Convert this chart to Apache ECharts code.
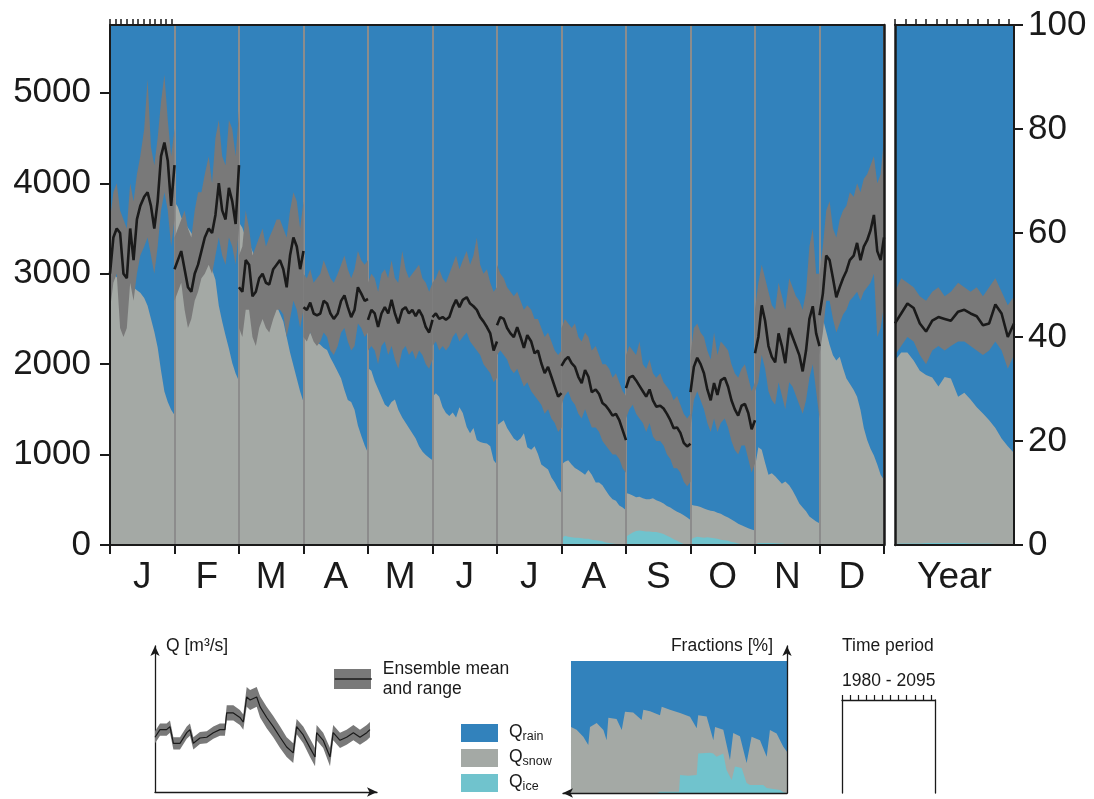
<!DOCTYPE html>
<html><head><meta charset="utf-8">
<script src="https://cdn.jsdelivr.net/npm/echarts@6/dist/echarts.min.js"></script>
<style>html,body{margin:0;padding:0;background:#fff}#c{width:1094px;height:799px}</style>
</head><body><div id="c"></div>
<script>
// ---------- DATA ----------
const MONTH_KEYS = ['Jan','Feb','Mar','Apr','May','Jun','Jul','Aug','Sep','Oct','Nov','Dec'];
const MONTH_LABELS = ['J','F','M','A','M','J','J','A','S','O','N','D'];
const YEARS = [1980,1986,1992,1998,2004,2010,2016,2022,2028,2034,2041,2047,2053,2059,2065,2071,2077,2083,2089,2095];
const DECADES = [1980,1990,2000,2010,2020,2030,2040,2050,2060,2070,2080,2090];
const Q_TICKS = [0,1000,2000,3000,4000,5000];
const FULL = 100;

// top of snow fraction (%), one row per month
const SNOW = [
 [53,52,51.5,51,49.5,50,50.5,49.5,49,48.5,47.5,46,43.5,41,38,33.5,29.5,27.5,26,25],
 [66,65,63,62,61,60,59,58,56,55,54.5,53,51,46,43,40.3,37.8,35,33,31.5],
 [62,61,59,58,56.5,55,53.5,52,50,48.5,47,46,44.5,43,40,37,34.5,32,29.5,27.5],
 [42.3,41.3,40.8,39.8,39,38.5,37.9,37.5,36,34.8,33.3,32,29.8,27.9,27.5,26,23,21,19.2,17.7],
 [34,33.5,31.5,30,28.5,27,26.5,27.5,28,26,24.5,23.5,22.5,21.5,20.5,19,18,17.3,16.8,16.3],
 [28.5,29.2,28.5,26.5,25.4,24.8,25.5,24.5,26.5,25.4,22.7,21.5,22.5,20.2,19.8,19.6,19.5,19,16.3,15.5],
 [23,23.5,24,22.5,21.5,20.5,20,20.5,21.5,18.8,18.3,19,17.5,15.5,15,14.5,13,12,10.8,10],
 [15.5,16,16.3,15.5,14.8,14.4,14,13.5,14.4,13.5,12,12,11.5,10.5,9.5,8.8,8.5,7.6,7.2,6.7],
 [10,9.8,9.5,9.2,9.3,9,8.8,8.8,9,8.6,8.3,8,7.5,7.2,6.8,6.4,6.1,5.7,5.3,4.8],
 [7.8,7.6,7.5,7.3,7,6.8,6.6,6.5,6.2,6,5.6,5.3,4.9,4.5,4.1,3.8,3.5,3.2,3,2.8],
 [15,18.8,18.3,15.8,13.5,13.8,13.2,12.5,11.8,12.2,11.5,10.5,9.3,8,7.2,6.5,5.5,5,4.5,4.2],
 [42,43.5,41,38.5,36.5,35.5,36.2,34,32,31,29.8,28.5,26,22.5,20.2,18.5,17.2,15.5,13.5,12.5]
];
// ice fraction (%)
const ICE = [
 [0,0,0,0,0,0,0,0,0,0,0,0,0,0,0,0,0,0,0,0],
 [0,0,0,0,0,0,0,0,0,0,0,0,0,0,0,0,0,0,0,0],
 [0,0,0,0,0,0,0,0,0,0,0,0,0,0,0,0,0,0,0,0],
 [0,0,0,0,0,0,0,0,0,0,0,0,0,0,0,0,0,0,0,0],
 [0,0,0,0,0,0,0,0,0,0,0,0,0,0,0,0,0,0,0,0],
 [0,0,0,0,0,0,0,0,0,0,0,0,0,0,0,0,0,0,0,0],
 [0,0,0,0,0,0,0,0,0,0,0,0,0,0,0,0,0,0,0,0],
 [1.2,1.8,1.6,1.5,1.4,1.4,1.3,1.2,1.2,1,0.9,0.8,0.7,0.5,0.4,0.3,0.2,0.1,0,0],
 [1.6,2,2.4,2.7,2.8,2.7,2.6,2.6,2.5,2.5,2.3,2.1,1.8,1.5,1.1,0.8,0.5,0.2,0.1,0],
 [1,1.4,1.6,1.5,1.4,1.5,1.4,1.3,1.2,1,0.9,0.8,0.6,0.5,0.3,0.2,0.1,0,0,0],
 [0.2,0.4,0.4,0.4,0.4,0.4,0.35,0.3,0.3,0.2,0.1,0.1,0,0,0,0,0,0,0,0],
 [0,0,0,0,0,0,0,0,0,0,0,0,0,0,0,0,0,0,0,0]
];
// ensemble mean discharge (m3/s)
const Q_MEAN = [
 [3000,3400,3500,3450,3000,2950,3500,3150,3600,3750,3850,3900,3750,3500,3800,4300,4450,4250,3750,4200],
 [3050,3150,3250,3050,2850,2800,3000,3100,3250,3400,3500,3450,3650,4000,3700,3600,3950,3800,3550,4200],
 [2850,2800,3150,3100,2750,2800,2950,3000,2900,2880,3050,3100,3150,3050,2850,3200,3400,3300,3050,3250],
 [2630,2600,2680,2560,2540,2560,2700,2670,2560,2500,2560,2700,2760,2630,2520,2600,2850,2780,2700,2720],
 [2490,2600,2560,2410,2560,2630,2560,2710,2560,2450,2600,2630,2560,2600,2530,2600,2530,2410,2350,2490],
 [2520,2560,2500,2520,2490,2520,2630,2710,2630,2710,2740,2670,2640,2600,2520,2470,2410,2340,2150,2250],
 [2430,2520,2500,2400,2340,2300,2410,2300,2180,2320,2250,2120,2150,2010,1900,1970,1860,1750,1640,1680],
 [1980,2045,2080,2010,1970,1860,1790,1935,1860,1690,1720,1670,1570,1540,1490,1430,1450,1380,1270,1160],
 [1735,1850,1870,1820,1760,1700,1640,1720,1600,1530,1540,1510,1450,1380,1290,1300,1240,1130,1090,1120],
 [1690,1970,2070,2000,1900,1720,1600,1790,1660,1820,1850,1750,1600,1500,1430,1540,1560,1460,1280,1380],
 [2120,2300,2650,2480,2200,2080,2020,2340,2200,2010,2400,2300,2200,2100,1920,2150,2500,2640,2340,2200],
 [2540,2780,3200,3150,2950,2740,2850,2950,3030,3150,3200,3340,3150,3300,3370,3480,3650,3250,3150,3400]
];
// ensemble maximum
const Q_MAX = [
 [3600,3900,4000,3700,3600,3500,4000,3800,4100,4300,4600,5150,4400,4200,4500,4900,5200,4700,4300,4600],
 [3400,3500,3600,3700,3500,3400,3700,3900,3900,4100,4300,4000,4500,4700,4300,4200,4700,4600,4300,4800],
 [3200,3300,3700,3500,3200,3300,3400,3500,3300,3400,3500,3600,3600,3500,3400,3700,3900,3800,3500,3800],
 [3000,2950,3050,2900,2950,3000,3150,3050,2950,2900,3000,3100,3200,3050,2950,3050,3250,3150,3100,3150],
 [2900,3000,2950,2800,3000,3050,2950,3150,2950,2900,3250,3050,2950,3000,3050,3100,2950,2900,2800,2900],
 [2900,2950,3050,2950,2900,3000,3100,3200,3050,3150,3250,3100,3200,3400,3100,3000,3050,2900,2800,2850],
 [3100,3000,2950,2850,2800,2750,2800,2700,2600,2650,2600,2500,2500,2400,2300,2350,2250,2150,2100,2150],
 [2400,2500,2450,2400,2450,2300,2250,2350,2300,2150,2200,2100,2000,2000,1950,1850,1900,1800,1700,1650],
 [2100,2200,2150,2100,2250,2000,1950,2050,1900,1850,1900,1800,1750,1700,1600,1650,1550,1450,1400,1450],
 [2100,2400,2450,2350,2300,2150,2050,2350,2100,2250,2200,2150,2000,1900,1850,1950,2000,1850,1700,1800],
 [2600,2900,3100,2950,2800,2650,2600,2900,2750,2600,2950,2850,2750,2700,2600,2800,3300,3500,3000,3000],
 [3000,3300,3700,3800,3500,3400,3600,3700,3750,3900,3850,4000,3900,4050,4100,4200,4300,4000,4100,4500]
];
// ensemble minimum
const Q_MIN = [
 [2600,2900,3000,2400,2300,2400,2900,2700,3000,3200,3300,3400,3200,3000,3300,3700,3900,3700,3300,3600],
 [2700,2800,2900,2600,2400,2500,2700,2800,2950,3000,3100,3000,3200,3400,3200,3100,3400,3300,3100,3500],
 [2400,2300,2600,2600,2300,2200,2400,2500,2400,2350,2500,2600,2600,2550,2300,2500,2700,2600,2400,2600],
 [2300,2250,2350,2250,2200,2250,2350,2300,2150,2100,2200,2350,2400,2250,2150,2200,2450,2400,2300,2350],
 [2150,2200,2150,2000,2200,2250,2100,2200,2050,1950,2150,2200,2100,2150,2050,2150,2100,2000,1950,2050],
 [2200,2250,2150,2200,2150,2200,2300,2350,2250,2300,2350,2250,2200,2150,2100,2000,1950,1900,1800,1850],
 [2100,2150,2100,2050,1950,1900,1950,1850,1750,1800,1700,1650,1600,1550,1450,1500,1400,1350,1250,1300],
 [1550,1650,1700,1600,1550,1450,1400,1500,1400,1300,1300,1250,1150,1100,1050,1000,1000,950,850,800],
 [1400,1500,1550,1450,1400,1350,1250,1350,1200,1150,1150,1100,1000,950,850,850,800,700,650,700],
 [1300,1600,1700,1600,1500,1350,1250,1400,1250,1350,1400,1300,1150,1050,1000,1100,1100,950,800,900],
 [1700,1800,2100,1950,1700,1600,1550,1800,1650,1500,1800,1750,1650,1550,1450,1600,1850,2000,1700,1400],
 [2100,2350,2700,2700,2500,2350,2450,2550,2600,2700,2750,2800,2700,2800,2850,2900,3000,2300,2400,2650]
];
// whole-year panel
const YEAR_SNOW = [35.5,37,37,35.5,33.5,32.7,32.2,30.5,32.3,32,28.5,29.3,28,26.5,25.3,24,22.5,20.5,19,17.7];
const YEAR_ICE  = [0.2,0.3,0.3,0.3,0.3,0.4,0.4,0.4,0.4,0.4,0.4,0.4,0.3,0.3,0.3,0.3,0.2,0.2,0.2,0.2];
const YEAR_MEAN = [2450,2560,2670,2620,2450,2360,2480,2520,2500,2480,2580,2600,2560,2530,2430,2450,2660,2560,2300,2450];
const YEAR_MAX  = [2800,2950,2900,2850,2750,2700,2800,2850,2750,2800,2900,2850,2800,2850,2750,2850,2950,2800,2650,2750];
const YEAR_MIN  = [2100,2200,2300,2250,2100,2000,2150,2200,2150,2200,2250,2250,2200,2150,2100,2150,2250,2150,1950,2100];

// schematic legend: discharge
const QLEG_X    = [0,2.2,5.1,6.6,8.1,11,14,15.4,16.9,19.8,22.8,25.7,28.6,30.8,31.6,34.5,37.4,38.9,40.4,41.9,44.8,46.3,49.2,52.1,55.1,58,60.9,62.4,65.3,68.3,70.5,71.2,74.1,77.1,78.5,81.5,84.4,87.4,90.3,93.3,94.7];
const QLEG_MEAN = [36,41,41,43,32,32,39,41,32,35.5,36,39,41,41,52,52,49,46,62.5,60.5,62.5,56,49,43,36,29.6,25.7,43,37.5,29,23,39,34,23,39,34,36,39,36,39,41];
const QLEG_HI   = [40,45,45,47,36,36,43,45,36,39.5,40,43,45,45,57,57,54,51,69,67,69,63,56,50,43,36,32,48,43,35,29,44,39,29,44,39,41,44,41,44,46];
const QLEG_LO   = [32,37,37,39,28,28,35,37,28,31.5,32,35,37,37,47,47,44,41,56,54,56,49,42,36,29,23,19,38,32,23,17,34,29,17,34,29,31,34,31,34,36];
// schematic legend: fractions
const FLEG_X    = [0,2.6,5.7,8,8.8,11.9,15,16.5,17.3,21.1,23.5,25,28.8,32.7,33.5,36.6,41.2,42,45.8,50.5,55.1,58.2,58.9,62.8,65.9,66.7,70.5,73.6,75.1,78.2,81.3,83.6,87.5,90.6,92.1,95.2,98.3,100];
const FLEG_SNOW = [50,48,42.7,36.4,50,53,47.7,40,57,56,47.7,61.6,61,55.3,63,62,59,65.4,63,60.6,57.8,49,59,58,40,50,48,25,45.5,43,22.7,42.7,40,27.5,47.7,45,35,31.3];
const ILEG_X    = [0,40,41.2,50,50.5,54.3,58.2,58.9,64.3,65.9,67.4,70.5,72,74.4,75.9,79,81.3,82.9,89,90.6,96.8,98.3,100];
const ILEG_VAL  = [0,0,1,1,13.6,13,13.6,30,30.5,30,27.5,30,17.4,9.8,20,19,7.5,6,6,3.8,2.3,0.5,0];

// ---------- STYLE ----------
const INK = '#1a1a1a';
const FONT = "'Liberation Sans', Arial, Helvetica, sans-serif";
const C_RAIN = '#3282bc', C_SNOW = '#a4a9a5', C_ICE = '#70c3cd', C_BAND = '#797979', C_SEP = '#8c8c8c';

const T = YEARS.map(y => (y - 1980) / 115);

function area(name, color, data, xi, yi, z) {
  return {name, type:'line', xAxisIndex:xi, yAxisIndex:yi, data, symbol:'none', color,
    lineStyle:{width:0, opacity:0}, areaStyle:{color, opacity:1}, z, silent:true,
    emphasis:{disabled:true}};
}
function lineS(name, color, width, data, xi, yi, z) {
  return {name, type:'line', xAxisIndex:xi, yAxisIndex:yi, data, symbol:'none', showSymbol:false, color,
    lineStyle:{width, color}, z, silent:true, emphasis:{disabled:true}};
}
// ensemble range drawn as one polygon through the axes' coordinate system
function band(xs, lo, hi, xi, yi, z) {
  const data = xs.map((x, i) => [x, lo[i], hi[i]]);
  return {name:'Ensemble range', type:'custom', xAxisIndex:xi, yAxisIndex:yi, z, silent:true,
    color:C_BAND, itemStyle:{color:C_BAND}, data, encode:{x:0, y:[1,2]},
    renderItem:(params, api) => {
      if (params.dataIndex !== 0) return null;
      const top = data.map(d => api.coord([d[0], d[2]]));
      const bot = data.map(d => api.coord([d[0], d[1]])).reverse();
      return {type:'polygon', shape:{points: top.concat(bot)}, style:{fill:C_BAND}};
    }};
}

const series = [];
// month panels: fractions
const rainD = [], snowD = [], iceD = [];
MONTH_KEYS.forEach((k, m) => {
  T.forEach((t, i) => {
    rainD.push([m + t, FULL]);
    snowD.push([m + t, SNOW[m][i]]);
    iceD.push([m + t, ICE[m][i]]);
  });
});
series.push(area('rain', C_RAIN, rainD, 0, 1, 1));
series.push(area('snow', C_SNOW, snowD, 0, 1, 1));
series.push(area('ice', C_ICE, iceD, 0, 1, 1));
// month panels: discharge
MONTH_KEYS.forEach((k, m) => {
  const xs = T.map(t => m + t);
  series.push(band(xs, Q_MIN[m], Q_MAX[m], 0, 0, 4));
  series.push(lineS('Ensemble mean', INK, 2.6, xs.map((x,i)=>[x, Q_MEAN[m][i]]), 0, 0, 5));
});
// year panel
series.push(area('rain', C_RAIN, YEARS.map(y=>[y, FULL]), 2, 3, 1));
series.push(area('snow', C_SNOW, YEARS.map((y,i)=>[y, YEAR_SNOW[i]]), 2, 3, 1));
series.push(area('ice', C_ICE, YEARS.map((y,i)=>[y, YEAR_ICE[i]]), 2, 3, 1));
series.push(band(YEARS, YEAR_MIN, YEAR_MAX, 2, 2, 4));
series.push(lineS('Ensemble mean', INK, 2.6, YEARS.map((y,i)=>[y, YEAR_MEAN[i]]), 2, 2, 5));
// schematic Q legend
series.push(band(QLEG_X, QLEG_LO, QLEG_HI, 5, 5, 4));
series.push(lineS('legend-mean', INK, 1.2, QLEG_X.map((x,i)=>[x, QLEG_MEAN[i]]), 5, 5, 5));
// schematic fraction legend
series.push(area('legend-rain', C_RAIN, FLEG_X.map(x=>[x, FULL]), 6, 6, 1));
series.push(area('legend-snow', C_SNOW, FLEG_X.map((x,i)=>[x, FLEG_SNOW[i]]), 6, 6, 1));
series.push(area('legend-ice', C_ICE, ILEG_X.map((x,i)=>[x, ILEG_VAL[i]]), 6, 6, 1));

const axLine = (w, extra) => Object.assign({show:true, onZero:false, lineStyle:{color:INK, width:w}}, extra || {});
const off = {show:false};
const plain = v => String(v);

const option = {
  animation:false,
  backgroundColor:'#ffffff',
  textStyle:{fontFamily:FONT, color:INK},
  grid:[
    {left:110, top:25, width:774, height:520},
    {left:895, top:25, width:119, height:520},
    {left:110, top:25, width:64.5, height:10},
    {left:155, top:646, width:222, height:146},
    {left:563, top:646, width:224, height:147},
    {left:842, top:700, width:93, height:93}
  ],
  xAxis:[
    {gridIndex:0, type:'value', min:0, max:12, position:'top', axisLine:axLine(2), axisTick:off, axisLabel:off, splitLine:off, z:4},
    {gridIndex:0, type:'category', data:MONTH_KEYS, position:'bottom', boundaryGap:true,
     axisLine:axLine(2), axisTick:{show:true, length:9, lineStyle:{color:INK, width:2}},
     axisLabel:{fontSize:37, color:INK, margin:14, fontFamily:FONT, formatter:(v,i)=>MONTH_LABELS[i]},
     splitLine:{show:true, lineStyle:{color:C_SEP, width:2}}, z:3},
    {gridIndex:1, type:'value', min:1980, max:2095, position:'top', axisLine:axLine(2),
     axisTick:{show:true, length:6, customValues:DECADES, lineStyle:{color:INK, width:1.5}}, axisLabel:off, splitLine:off, z:4},
    {gridIndex:1, type:'category', data:['Year'], position:'bottom', axisLine:axLine(2), axisTick:off,
     axisLabel:{fontSize:37, color:INK, margin:14, fontFamily:FONT}, splitLine:off, z:4},
    {gridIndex:2, type:'value', min:1980, max:2095, position:'top', axisLine:{show:false, onZero:false},
     axisTick:{show:true, length:6, customValues:DECADES, lineStyle:{color:INK, width:1.5}}, axisLabel:off, splitLine:off, z:4},
    {gridIndex:3, type:'value', min:0, max:97.8, position:'bottom',
     axisLine:axLine(1.3, {symbol:['none','arrow'], symbolSize:[7,10]}), axisTick:off, axisLabel:off, splitLine:off},
    {gridIndex:4, type:'value', min:-3.7, max:100, position:'bottom',
     axisLine:axLine(1.3, {symbol:['arrow','none'], symbolSize:[7,10]}), axisTick:off, axisLabel:off, splitLine:off, z:4},
    {gridIndex:5, type:'value', min:1980, max:2095, position:'top', axisLine:axLine(1.3),
     axisTick:{show:true, length:5, customValues:DECADES, lineStyle:{color:INK, width:1.2}}, axisLabel:off, splitLine:off}
  ],
  yAxis:[
    {gridIndex:0, type:'value', min:0, max:5750, position:'left', axisLine:axLine(2),
     axisTick:{show:true, length:10, customValues:Q_TICKS, lineStyle:{color:INK, width:2}},
     axisLabel:{fontSize:35, color:INK, margin:19, customValues:Q_TICKS, fontFamily:FONT, formatter:plain}, splitLine:off, z:4},
    {gridIndex:0, type:'value', min:0, max:100, position:'right', axisLine:axLine(2.5), axisTick:off, axisLabel:off, splitLine:off, z:4},
    {gridIndex:1, type:'value', min:0, max:5750, position:'left', axisLine:axLine(2.5), axisTick:off, axisLabel:off, splitLine:off, z:4},
    {gridIndex:1, type:'value', min:0, max:100, interval:20, position:'right', axisLine:axLine(2),
     axisTick:{show:true, length:9, lineStyle:{color:INK, width:2}},
     axisLabel:{fontSize:35, color:INK, margin:14, fontFamily:FONT, formatter:plain}, splitLine:off, z:4},
    {gridIndex:2, type:'value', min:0, max:1, show:false},
    {gridIndex:3, type:'value', min:0, max:96, position:'left',
     axisLine:axLine(1.3, {symbol:['none','arrow'], symbolSize:[7,10]}), axisTick:off, axisLabel:off, splitLine:off},
    {gridIndex:4, type:'value', min:0, max:111.4, position:'right',
     axisLine:axLine(1.3, {symbol:['none','arrow'], symbolSize:[7,10]}), axisTick:off, axisLabel:off, splitLine:off, z:4},
    {gridIndex:5, type:'value', min:0, max:1, position:'left', axisLine:axLine(1.3), axisTick:off, axisLabel:off, splitLine:off},
    {gridIndex:5, type:'value', min:0, max:1, position:'right', axisLine:axLine(1.3), axisTick:off, axisLabel:off, splitLine:off}
  ],
  title:[
    {text:'Q [m³/s]', left:166, top:637, padding:0, textStyle:{fontSize:17.5, fontWeight:'normal', color:INK, fontFamily:FONT}},
    {text:'Fractions [%]', right:321, top:637, padding:0, textStyle:{fontSize:17.5, fontWeight:'normal', color:INK, fontFamily:FONT}},
    {text:'Time period', left:842, top:637, padding:0, textStyle:{fontSize:17.5, fontWeight:'normal', color:INK, fontFamily:FONT}},
    {text:'1980 - 2095', left:842, top:672, padding:0, textStyle:{fontSize:17.5, fontWeight:'normal', color:INK, fontFamily:FONT}}
  ],
  legend:[
    {left:461, top:723, orient:'vertical', itemWidth:37, itemHeight:18, itemGap:5, icon:'rect', selectedMode:false, padding:0,
     data:['rain','snow','ice'], formatter:n => '{q|Q}{s|' + n + '}',
     textStyle:{fontFamily:FONT, rich:{
       q:{fontSize:17.5, color:INK, lineHeight:20, verticalAlign:'top', padding:[0,0,0,6], fontFamily:FONT},
       s:{fontSize:12.5, color:INK, lineHeight:20, verticalAlign:'bottom', fontFamily:FONT}}}},
    {left:334, top:669, itemWidth:37, itemHeight:20, icon:'rect', selectedMode:false, padding:0,
     data:[{name:'Ensemble range', itemStyle:{color:C_BAND}}], formatter:() => ' '},
    {left:334, top:659, itemWidth:37, itemHeight:20, selectedMode:false, padding:0,
     data:[{name:'Ensemble mean', itemStyle:{opacity:0, borderWidth:0}}], formatter:() => 'Ensemble mean\nand range',
     lineStyle:{width:1.6, color:INK, opacity:1},
     textStyle:{fontSize:17.5, lineHeight:20, color:INK, fontFamily:FONT, padding:[0,0,0,6]}}
  ],
  series
};

const chart = echarts.init(document.getElementById('c'), null, {renderer:'canvas'});
chart.setOption(option);
</script>
</body></html>
